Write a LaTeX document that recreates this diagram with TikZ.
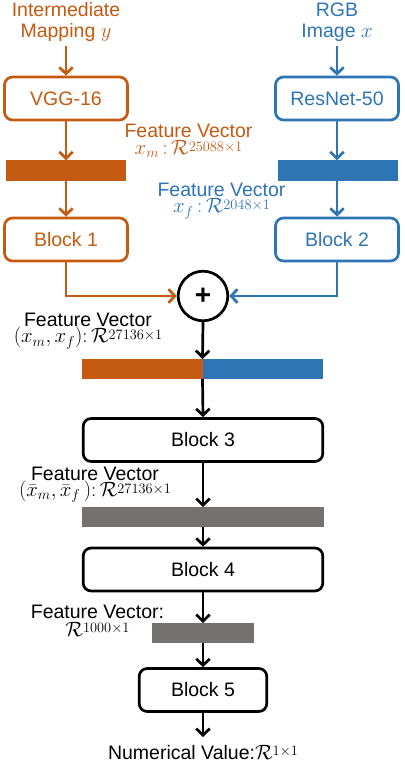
\documentclass[tikz,border=0pt]{standalone}
\usepackage[no-math]{fontspec}
\setmainfont{Liberation Sans}
\usetikzlibrary{arrows.meta}
\DeclareMathSizes{19.5}{19.5}{13.5}{10}
\definecolor{orng}{HTML}{C55A11}
\definecolor{blu}{HTML}{2E75B6}
\definecolor{gry}{HTML}{767171}
\newcommand{\Rdim}[1]{\mathcal{R}\raisebox{3.5pt}{$\scriptstyle #1$}}
\begin{document}
\begin{tikzpicture}[x=1pt,y=-1pt,
  font=\fontsize{19.5}{21}\selectfont,
  line width=2.7pt,
  arr/.style={-{Straight Barb[length=6.5pt,width=13.5pt]}},
  blk/.style={draw, rounded corners=8pt, minimum width=#1, minimum height=43pt, inner sep=0pt},
  bar/.style={fill=#1, inner sep=0pt, outer sep=0pt, minimum height=20.5pt},
  lbl/.style={anchor=base, inner sep=0pt},
  fvlbl/.style={align=center, inner sep=0pt, anchor=north,
    font={\fontsize{19.5}{#1}\selectfont\lineskiplimit -40pt\relax}}
]
\useasboundingbox[fill=white] (0,0) rectangle (404,762);

% inputs
\node[text=orng, align=center, inner sep=3pt] (intm) at (66,22.3) {Intermediate\\Mapping $y$};
\node[text=blu, align=center, inner sep=3pt] (rgb) at (337,22.3) {RGB\\Image $x$};

% orange branch
\node[blk=123pt, draw=orng, text=orng] (vgg) at (66,98.5) {VGG-16};
\node[bar=orng, minimum width=120pt] (barm) at (66,170.5) {};
\node[blk=123pt, draw=orng, text=orng] (b1) at (66,239.5) {Block 1};

% blue branch
\node[blk=123pt, draw=blu, text=blu] (res) at (337,98.5) {ResNet-50};
\node[bar=blu, minimum width=120pt] (barf) at (337.5,170.5) {};
\node[blk=123pt, draw=blu, text=blu] (b2) at (337,239.5) {Block 2};

% labels of branches
\node[fvlbl=17.5, text=orng] (fvm) at (188.5,122.5) {Feature Vector\\$x_m\,{:}\,\Rdim{25088\times1}$};
\node[fvlbl=16, text=blu] (fvf) at (221.5,182.2) {Feature Vector\\$x_f\,{:}\,\Rdim{2048\times1}$};

% sum
\node[circle, draw, minimum size=49.6pt, inner sep=0pt] (sum) at (203,296) {\fontsize{28}{28}\selectfont\bfseries +};

% concatenated vector
\node[bar=none, minimum width=241pt, minimum height=20pt] (cat) at (202.5,369) {};
\fill[orng] (cat.north west) rectangle (cat.south);
\fill[blu] (cat.north) rectangle (cat.south east);
\node[fvlbl=16] (fv1) at (88,312.2) {Feature Vector\\$(x_m,x_f){:}\,\Rdim{27136\times1}$};

% main column
\node[blk=239.6pt] (b3) at (203,440) {Block 3};
\node[bar=gry, minimum width=242pt, minimum height=20pt] (barg) at (203,517) {};
\node[fvlbl=16] (fv2) at (95,466) {Feature Vector\\$(\bar{x}_m,\bar{x}_f\,){:}\,\Rdim{27136\times1}$};
\node[blk=239.6pt] (b4) at (203,569.5) {Block 4};
\node[bar=gry, minimum width=102pt, minimum height=20pt] (bars) at (203,633) {};
\node[fvlbl=18] (fv3) at (97.5,603.3) {Feature Vector:\\$\Rdim{1000\times1}$};
\node[blk=127.6pt] (b5) at (203,690) {Block 5};
\coordinate (out) at (203,737);
\node[lbl] (num) at (203,759) {Numerical Value:$\Rdim{1\times1}$};

% connectors
\draw[arr, orng] (intm.south) -- (vgg.north);
\draw[arr, orng] (vgg.south) -- (barm.north);
\draw[arr, orng] (barm.south) -- (b1.north);
\draw[arr, orng] (b1.south) |- (sum.west);
\draw[arr, blu] (rgb.south) -- (res.north);
\draw[arr, blu] (res.south) -- (res.south |- barf.north);
\draw[arr, blu] (res.south |- barf.south) -- (b2.north);
\draw[arr, blu] (b2.south) |- (sum.east);
\draw[arr] (sum.south) -- (cat.north);
\draw[arr] (cat.south) -- (b3.north);
\draw[arr] (b3.south) -- (barg.north);
\draw[arr] (barg.south) -- (b4.north);
\draw[arr] (b4.south) -- (bars.north);
\draw[arr] (bars.south) -- (b5.north);
\draw[arr] (b5.south) -- (out);
\end{tikzpicture}
\end{document}
